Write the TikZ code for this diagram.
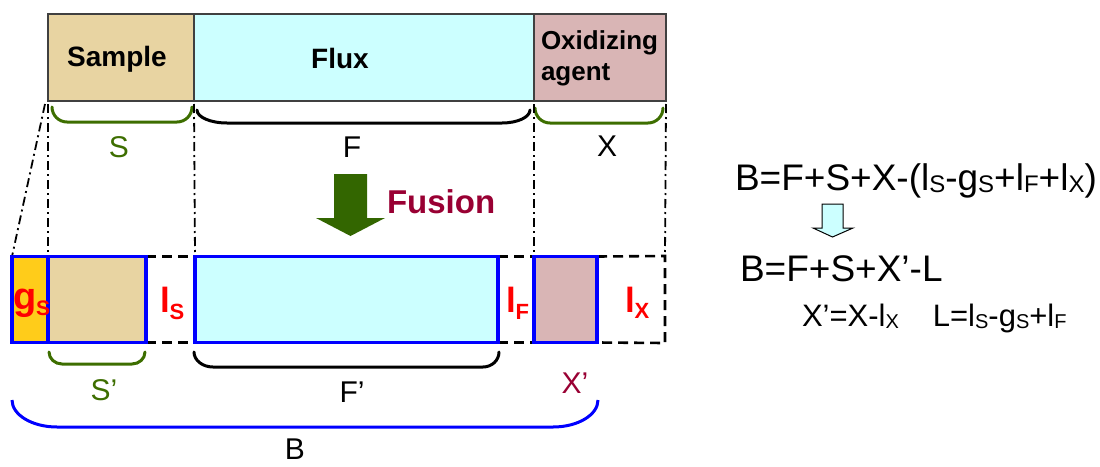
\documentclass[tikz,border=0pt]{standalone}
\usepackage{fontspec}
\setmainfont{Liberation Sans}
\definecolor{sampleclr}{HTML}{E8D4A2}
\definecolor{fluxclr}{HTML}{CCFFFF}
\definecolor{oxclr}{HTML}{D9B5B5}
\definecolor{gsclr}{HTML}{FFCC1A}
\definecolor{bblue}{HTML}{0000FF}
\definecolor{bgreen}{HTML}{3D6E00}
\definecolor{agreen}{HTML}{336600}
\definecolor{wine}{HTML}{990033}
\definecolor{lred}{HTML}{FF0000}
\newcommand\fs[1]{\fontsize{#1}{#1}\selectfont}
% \lo{text}{size}{drop}
\newcommand\lo[3]{\raisebox{-#3pt}{\fs{#2}#1}}
% \ubrace{style}{x1}{x2}{ytop}{ybot}{rx left}{rx right}
\newcommand\ubrace[7]{%
  \draw[#1] (#2,#4) .. controls (#2,{#4+0.552*(#5-#4)}) and ({#2+0.448*#6},#5) .. ({#2+#6},#5)
    -- ({#3-#7},#5) .. controls ({#3-0.448*#7},#5) and (#3,{#4+0.552*(#5-#4)}) .. (#3,#4);}
\begin{document}
\begin{tikzpicture}[x=1pt,y=-1pt,
  topbox/.style={draw=black!75,line width=1.2pt,minimum height=87pt,inner sep=0pt,outer sep=0pt},
  botbox/.style={draw=bblue,line width=3.8pt,minimum height=86pt,inner sep=0pt,outer sep=0pt},
  brc/.style={line width=3pt,line cap=round},
  dashdot/.style={line width=1.8pt,dash pattern=on 9pt off 4pt on 2pt off 4pt},
  dashln/.style={line width=2.6pt,dash pattern=on 10pt off 6pt},
  txt/.style={inner sep=0pt,outer sep=0pt},
  redlab/.style={txt,text=lred,font=\bfseries}]
\useasboundingbox (0,0) rectangle (1100,466);

% top row
\node[topbox,fill=sampleclr,minimum width=146pt] (sample) at (121,57.5) {};
\node[topbox,fill=fluxclr,minimum width=340pt] (flux) at (364,57.5) {};
\node[topbox,fill=oxclr,minimum width=132pt] (oxid) at (600,57.5) {};
\node[txt,anchor=base,font=\bfseries\fs{28}] (tsample) at (117,66) {Sample};
\node[txt,anchor=base,font=\bfseries\fs{28}] (tflux) at (340,68) {Flux};
\node[txt,anchor=north west,align=left,font=\bfseries\fontsize{26}{31}\selectfont] (tox) at (541,31) {Oxidizing\\agent};

% top braces
\ubrace{brc,bgreen}{52}{192}{107}{122}{15}{15}
\ubrace{brc,black}{197}{530}{110}{123}{30}{28}
\ubrace{brc,bgreen}{535}{663}{108}{123}{15}{15}
\node[txt,anchor=base,text=bgreen,font=\fs{30}] (lS) at (119,157) {S};
\node[txt,anchor=base,font=\fs{30}] (lF) at (352,157) {F};
\node[txt,anchor=base,font=\fs{30}] (lX) at (607,156) {X};

% bottom row coordinates
\coordinate (dr1) at (665,256);
\coordinate (dr2) at (665,343);

% bottom boxes
\node[botbox,fill=gsclr,minimum width=36pt] (gs) at (30,299.5) {};
\node[botbox,fill=sampleclr,minimum width=98pt] (sp) at (97,299.5) {};
\node[botbox,fill=fluxclr,minimum width=303pt] (fp) at (346.5,299.5) {};
\node[botbox,fill=oxclr,minimum width=63pt] (xp) at (565.5,299.5) {};

% dashed outlines
\draw[dashln] (sp.north east) -- (fp.north west);
\draw[dashln] (sp.south east) -- (fp.south west);
\draw[dashln] (fp.north east) -- (xp.north west);
\draw[dashln] (fp.south east) -- (xp.south west);
\draw[dashln] (xp.north east) -- (dr1) -- (dr2) -- (xp.south east);

% dash-dot projection lines
\draw[dashdot] ([xshift=-3pt,yshift=-3pt]sample.south west) -- (gs.north west);
\draw[dashdot] ([yshift=-3pt]sample.south west) -- (gs.north east);
\draw[dashdot] ([yshift=-3pt]sample.south east) -- (fp.north west);
\draw[dashdot] ([yshift=-3pt]flux.south east) -- (xp.north west);
\draw[dashdot] ([yshift=-3pt]oxid.south east) -- (dr1);

% redraw boxes on top of lines
\node[botbox,fill=gsclr,minimum width=36pt] at (30,299.5) {};
\node[botbox,fill=sampleclr,minimum width=98pt] at (97,299.5) {};
\node[botbox,fill=fluxclr,minimum width=303pt] at (346.5,299.5) {};
\node[botbox,fill=oxclr,minimum width=63pt] at (565.5,299.5) {};

% red labels
\node[redlab,anchor=base west] (tgs) at (13,309) {\fs{38}g\lo{S}{21}{6}};
\node[redlab,anchor=base west] (tls) at (160,312) {\fs{35}l\lo{S}{22}{7}};
\node[redlab,anchor=base west] (tlf) at (506,312) {\fs{35}l\lo{F}{22}{7}};
\node[redlab,anchor=base west] (tlx) at (625,312) {\fs{35}l\lo{X}{22}{6}};

% fusion arrow
\fill[agreen] (334,174) -- (367,174) -- (367,218) -- (385,218) -- (350.5,236) -- (316,218) -- (334,218) -- cycle;
\node[txt,anchor=base west,text=wine,font=\bfseries\fs{33}] (tfus) at (387,213) {Fusion};

% bottom braces
\ubrace{brc,bgreen}{49}{145}{352}{364}{13}{13}
\ubrace{brc,black}{194}{499}{352}{367}{19}{16}
\ubrace{line width=3pt,bblue}{12}{598}{400}{427}{45}{45}
\node[txt,anchor=base,text=bgreen,font=\fs{30}] (lSp) at (104,400) {S’};
\node[txt,anchor=base,font=\fs{30}] (lFp) at (352,402) {F’};
\node[txt,anchor=base,text=wine,font=\fs{30}] (lXp) at (575,393) {X’};
\node[txt,anchor=base,font=\fs{30}] (lB) at (295,459) {B};

% formulas
\node[txt,anchor=base west,font=\fs{37}] (eq1) at (735,190)
  {B=F+S+X-(l\lo{S}{24}{2}-g\lo{S}{24}{2}+l\lo{F}{24}{2}+l\lo{X}{24}{2})};
\draw[fill=fluxclr,line width=1pt] (822,204) -- (843,204) -- (843,228) -- (853,228) -- (832.5,237) -- (813,228) -- (822,228) -- cycle;
\node[txt,anchor=base west,font=\fs{37}] (eq2) at (740,281) {B=F+S+X’-L};
\node[txt,anchor=base west,font=\fs{31}] (eq3) at (802,326)
  {X’=X-l\lo{X}{20}{2}\hspace{34pt}L=l\lo{S}{20}{2}-g\lo{S}{20}{2}+l\lo{F}{20}{2}};
\end{tikzpicture}
\end{document}
